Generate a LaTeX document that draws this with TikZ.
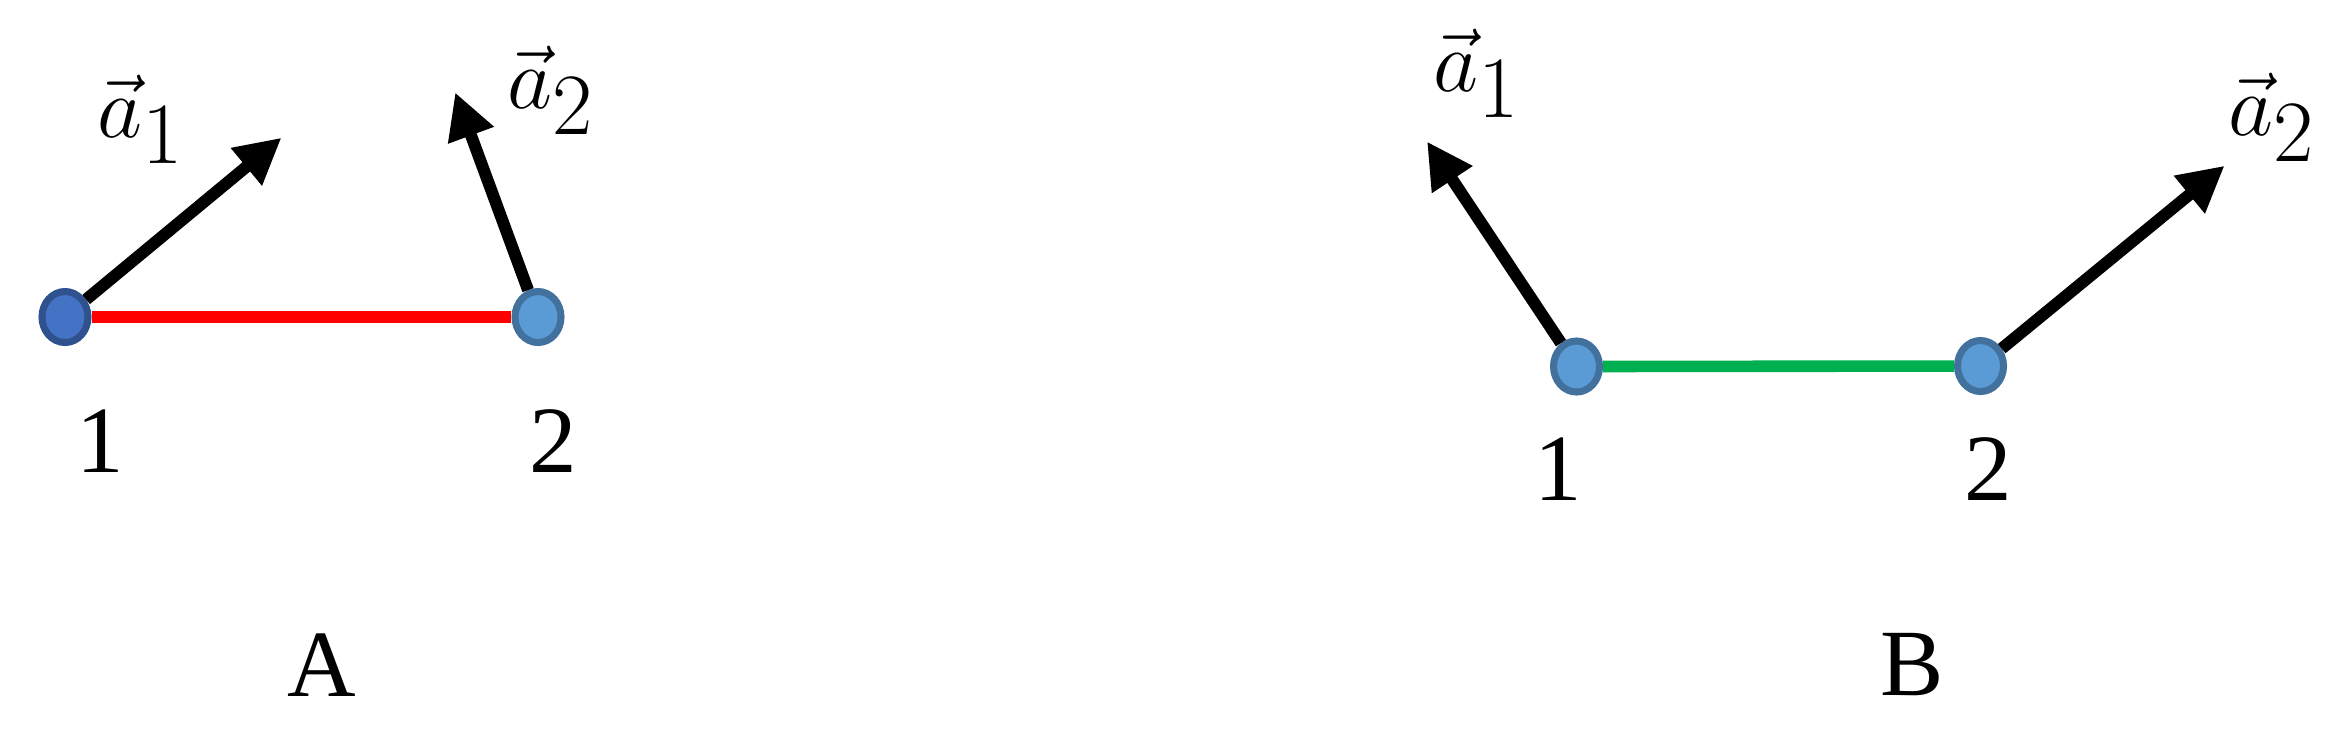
\documentclass[tikz,border=0pt]{standalone}
\usepackage{fontspec}
\setmainfont{Liberation Serif}
\usetikzlibrary{arrows.meta,shapes.geometric}
\definecolor{darkdot}{HTML}{4472C4}
\definecolor{darkrim}{HTML}{2F528F}
\definecolor{lightdot}{HTML}{5B9BD5}
\definecolor{lightrim}{HTML}{41719C}
\definecolor{bondgreen}{HTML}{00B050}
\tikzset{
  site/.style={ellipse,draw=lightrim,fill=lightdot,line width=2pt,inner sep=0pt,minimum width=0.46cm,minimum height=0.51cm},
  vecarrow/.style={line width=3.4pt,-{Triangle[length=13pt,width=13pt]}},
  bond/.style={line width=3.3pt},
  lbl/.style={font=\fontsize{27}{32}\selectfont,inner sep=0pt},
  veclbl/.style={font=\fontsize{33}{38}\selectfont,inner sep=0pt}
}
\begin{document}
\begin{tikzpicture}[x=0.01cm,y=-0.01cm]
	   \useasboundingbox (0,0) rectangle (2346,732);
	   % panel A
	   \node[site,draw=darkrim,fill=darkdot](A1) at (65,317) {};
	   \node[site](A2) at (538,317) {};
	   \draw[bond,red](A1)--(A2);
	   \coordinate(tA1) at (281.5,137.7);
	   \coordinate(tA2) at (455.2,92.4);
	   \draw[vecarrow](A1)--(tA1);
	   \draw[vecarrow](A2)--(tA2);
	   \node[veclbl](vA1) at (141,119) {$\vec{a}_1$};
	   \node[veclbl](vA2) at (551,90) {$\vec{a}_2$};
	   \node[lbl](nA1) at (100,441) {1};
	   \node[lbl](nA2) at (553,441) {2};
	   \node[lbl](capA) at (322,665) {A};
	   % panel B
	   \node[site](B1) at (1576.5,366.5) {};
	   \node[site](B2) at (1980.5,366) {};
	   \draw[bond,bondgreen](B1)--(B2);
	   \coordinate(tB1) at (1427,141.5);
	   \coordinate(tB2) at (2224.6,165.7);
	   \draw[vecarrow](B1)--(tB1);
	   \draw[vecarrow](B2)--(tB2);
	   \node[veclbl](vB1) at (1476.5,73.6) {$\vec{a}_1$};
	   \node[veclbl](vB2) at (2272.3,117.6) {$\vec{a}_2$};
	   \node[lbl](nB1) at (1558,469) {1};
	   \node[lbl](nB2) at (1988.6,469) {2};
	   \node[lbl](capB) at (1912.5,665) {B};
	\end{tikzpicture}
\end{document}
